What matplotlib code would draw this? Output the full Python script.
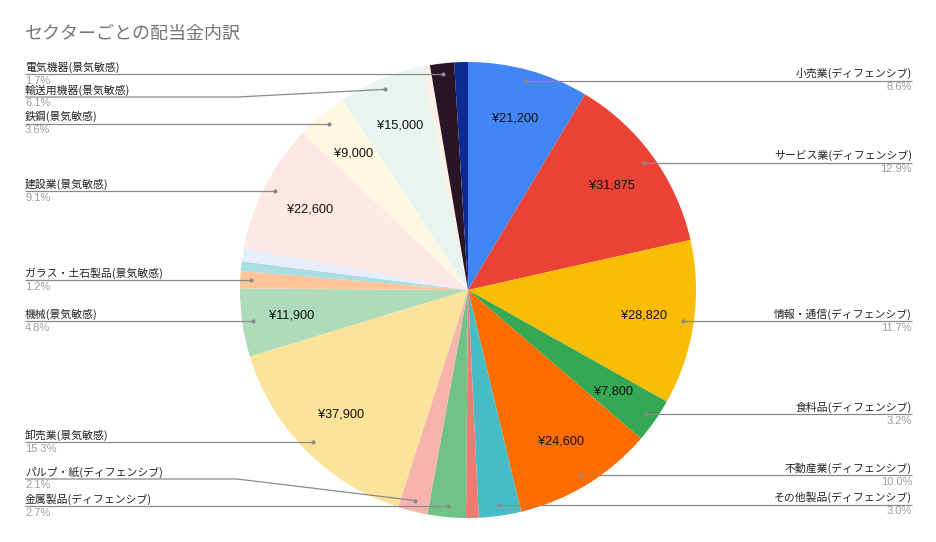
import matplotlib
matplotlib.use('Agg')
import matplotlib.pyplot as plt
import numpy as np

# ---- data ----
title = 'セクターごとの配当金内訳'
categories = ['小売業(ディフェンシブ)', 'サービス業(ディフェンシブ)', '情報・通信(ディフェンシブ)',
              '食料品(ディフェンシブ)', '不動産業(ディフェンシブ)', 'その他製品(ディフェンシブ)',
              '', '金属製品(ディフェンシブ)', 'パルプ・紙(ディフェンシブ)', '卸売業(景気敏感)',
              '機械(景気敏感)', 'ガラス・土石製品(景気敏感)', '', '', '建設業(景気敏感)',
              '鉄鋼(景気敏感)', '輸送用機器(景気敏感)', '', '電気機器(景気敏感)', '']
values = [21200, 31875, 28820, 7800, 24600, 7400, 2200, 6700, 5200, 37900,
          11900, 3000, 1700, 2300, 22600, 9000, 15000, 1300, 4200, 2400]
colors = ['#4285F4', '#EA4335', '#FBBC04', '#34A853', '#FF6D01', '#46BDC6',
          '#F07B72', '#71C287', '#F7B4AE', '#FCE39A', '#AEDCBA', '#FFC599',
          '#ABDEE3', '#E7EEFB', '#FDE8E6', '#FEF7E1', '#EAF4EE', '#FDEFE6',
          '#2A1526', '#0C2C92']

# ---- layout ----
W, H = 936, 542
CX, CY, R = 468, 290, 228
JP = ['Noto Sans CJK JP', 'DejaVu Sans']
LAT = ['Liberation Sans', 'DejaVu Sans']
line_overrides = {'輸送用機器(景気敏感)': 97, 'パルプ・紙(ディフェンシブ)': 479}
ELBOW_X = 237
LEFT_X, RIGHT_X = 25, 912

fig = plt.figure(figsize=(W / 100, H / 100), dpi=100)
fig.patch.set_facecolor('white')
ax = fig.add_axes([0, 0, 1, 1])

wedges, _ = ax.pie(values, colors=colors, startangle=-90, counterclock=True,
                   center=(CX, CY), radius=R, frame=False,
                   wedgeprops=dict(linewidth=0))
ax.set_xlim(0, W)
ax.set_ylim(H, 0)
ax.set_aspect('equal')
ax.axis('off')

total = float(sum(values))
line_col = '#8a8a8a'

for w, name, v in zip(wedges, categories, values):
    pct = v / total * 100
    th = np.deg2rad((w.theta1 + w.theta2) / 2)
    c, s = np.cos(th), np.sin(th)
    # inside value label
    if pct > 3.1:
        rl = 0.78 * R
        ax.text(CX + rl * c, CY + rl * s, f'¥{v:,}', ha='center', va='center',
                fontsize=9.2, family=LAT, color='#111111')
    if not name:
        continue
    dx, dy = CX + 0.952 * R * c, CY + 0.952 * R * s
    ly = line_overrides.get(name, dy)
    right = c > 0
    tx = RIGHT_X if right else LEFT_X
    ha = 'right' if right else 'left'
    if name in line_overrides:
        xs = [tx, ELBOW_X, dx]
        ys = [ly, ly, dy]
    else:
        xs = [tx, dx]
        ys = [ly, ly]
    ax.plot(xs, ys, color=line_col, lw=0.9, solid_capstyle='butt', zorder=5)
    ax.plot([dx], [dy], marker='o', ms=3, color=line_col, mec='none', zorder=6)
    ax.text(tx, ly - 1.5, name, ha=ha, va='bottom', fontsize=7.8, family=JP,
            color='#222222')
    ax.text(tx, ly + 1.5, f'{pct:.1f}%', ha=ha, va='top', fontsize=8,
            family=LAT, color='#9e9e9e')

ax.text(25, 34, title, ha='left', va='center', fontsize=13, family=JP,
        color='#757575')

fig.savefig('out.png', dpi=100, facecolor='white')
